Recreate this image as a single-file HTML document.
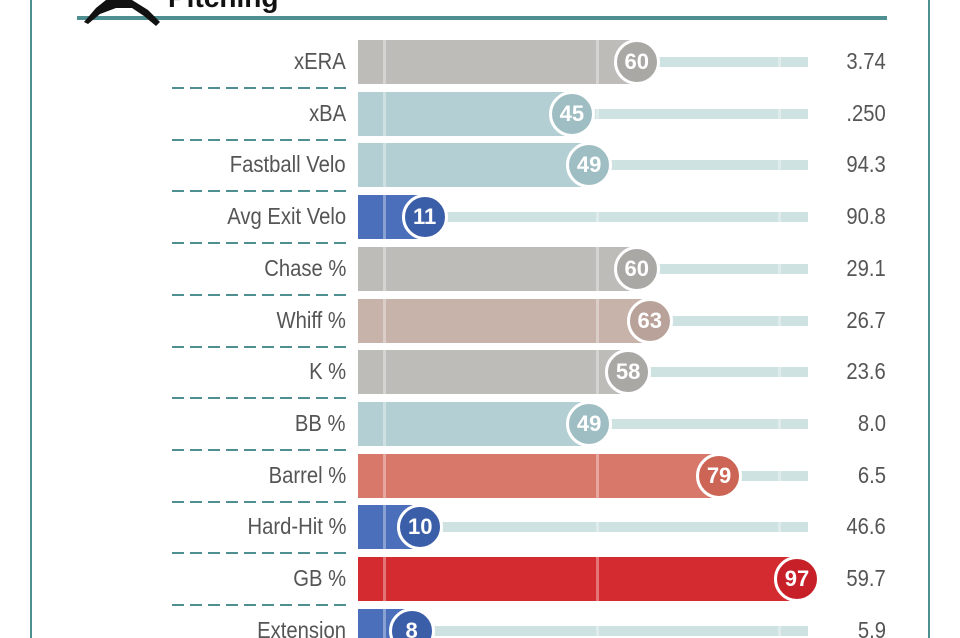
<!DOCTYPE html>
<html><head><style>
html,body{margin:0;width:960px;height:638px;overflow:hidden}
body{background:#fff;position:relative;font-family:"Liberation Sans",sans-serif}
.a{position:absolute}
.lab{position:absolute;right:614px;font-size:23px;color:#555;transform:scaleX(.88);transform-origin:right center;white-space:nowrap}
.val{position:absolute;right:74px;font-size:23px;color:#555;transform:scaleX(.88);transform-origin:right center}
.dash{position:absolute;left:172px;width:176px;height:2px;background:repeating-linear-gradient(90deg,#4f8f91 0 12px,transparent 12px 18px)}
.bar{position:absolute;left:358px;height:44px}
.trk{position:absolute;height:10px;background:#cfe2e2}
.c{position:absolute;width:40px;height:40px;border-radius:50%;border:3px solid #fff;color:#fff;font-weight:bold;font-size:22px;text-align:center;line-height:40px}
.vl{position:absolute;width:3px;background:rgba(255,255,255,.35)}
</style></head><body>
<div class="a" style="left:30px;top:0;width:2px;height:638px;background:#4f8f91"></div>
<div class="a" style="left:928px;top:0;width:2px;height:638px;background:#4f8f91"></div>
<div class="a" style="left:77px;top:16px;width:810px;height:4px;background:#4f8f91"></div>
<div class="a" style="left:168px;top:-18px;font-size:28px;font-weight:bold;color:#111">Pitching</div>
<svg class="a" style="left:76px;top:0" width="92" height="32"><path d="M8 22 L20 8 L30 0 L56 0 L72 10 L84 22 L80 26 L68 16 L56 8 L40 8 L24 14 L12 24 Z" fill="#111"/></svg>
<div id="rows"></div>
<script>
const d=[["xERA",60,"3.74","#bdbcb9","#a9a8a5"],["xBA",45,".250","#b4cfd3","#9fbec3"],["Fastball Velo",49,"94.3","#b4cfd3","#9fbec3"],["Avg Exit Velo",11,"90.8","#4b6fba","#3b5ea8"],["Chase %",60,"29.1","#bdbcb9","#a9a8a5"],["Whiff %",63,"26.7","#c8b3ab","#b9a29a"],["K %",58,"23.6","#bdbcb9","#a9a8a5"],["BB %",49,"8.0","#b4cfd3","#9fbec3"],["Barrel %",79,"6.5","#d7786a","#cc6555"],["Hard-Hit %",10,"46.6","#4b6fba","#3b5ea8"],["GB %",97,"59.7","#d42b30","#c72028"],["Extension",8,"5.9","#4b6fba","#3b5ea8"]];
let h="";
d.forEach((r,i)=>{const cy=62+i*51.7;const cx=377+4.33*r[1];
h+=`<div class="lab" style="top:${cy-14}px">${r[0]}</div>`;
h+=`<div class="val" style="top:${cy-14}px">${r[2]}</div>`;
if(i<11)h+=`<div class="dash" style="top:${cy+25}px"></div>`;
h+=`<div class="trk" style="left:${cx}px;width:${808-cx}px;top:${cy-5}px"></div>`;
h+=`<div class="bar" style="top:${cy-22}px;width:${cx-358}px;background:${r[3]}"></div>`;
h+=`<div class="vl" style="left:383px;top:${cy-22}px;height:44px"></div>`;
if(cx>598)h+=`<div class="vl" style="left:596px;top:${cy-22}px;height:44px"></div>`;
else h+=`<div class="vl" style="left:596px;top:${cy-5}px;height:10px"></div>`;
h+=`<div class="vl" style="left:778px;top:${cy-5}px;height:10px"></div>`;
h+=`<div class="c" style="left:${cx-23}px;top:${cy-23}px;background:${r[4]}">${r[1]}</div>`;});
document.getElementById("rows").innerHTML=h;
</script>
</body></html>
